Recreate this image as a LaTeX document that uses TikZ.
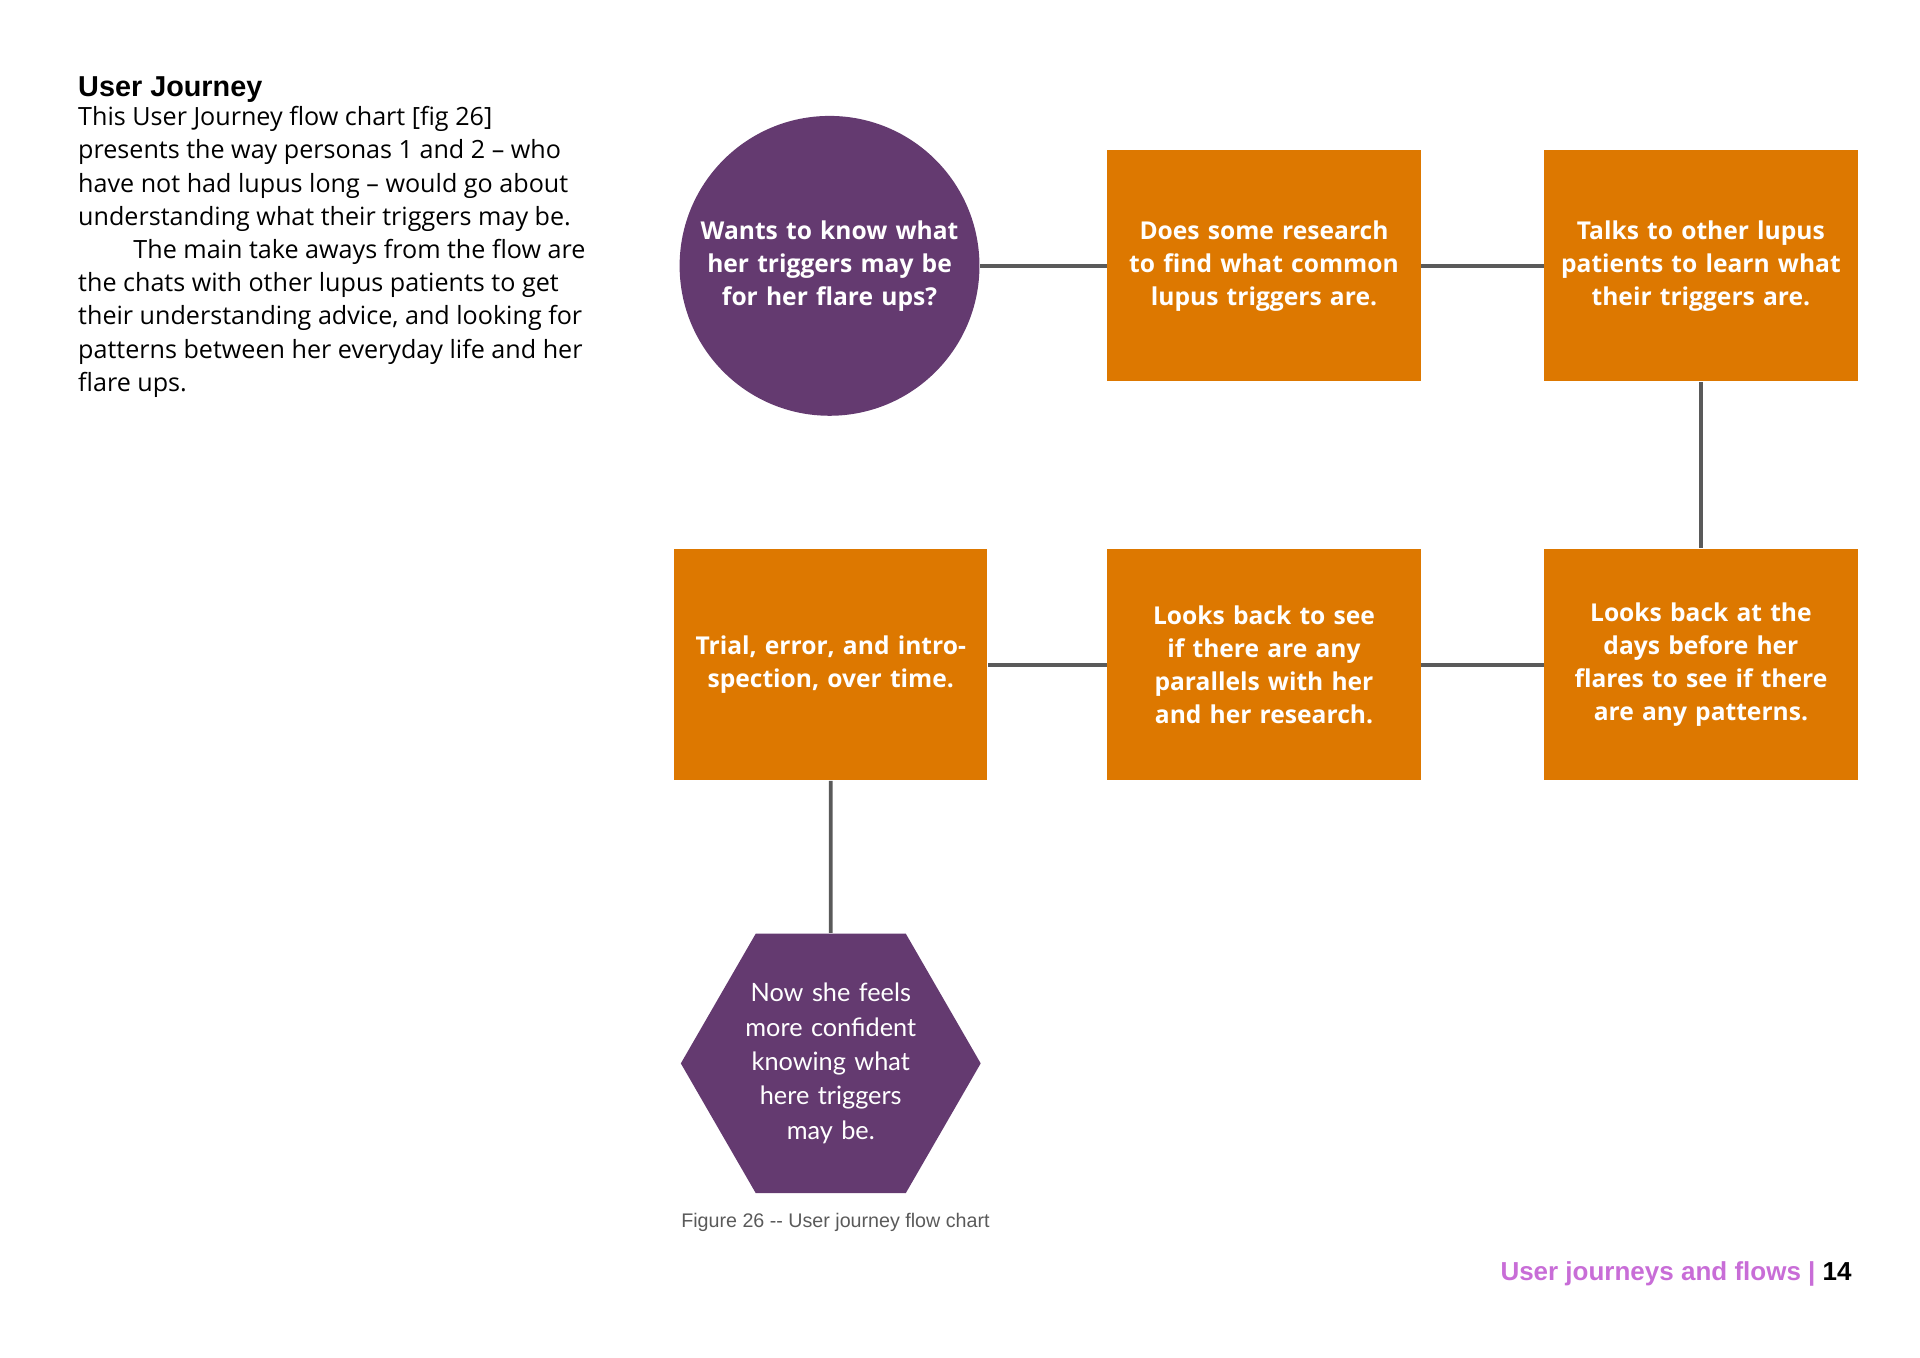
\documentclass[tikz,border=0pt]{standalone}
\usepackage{fontspec}
\setmainfont{Open Sans}
\newfontfamily\headfont{Liberation Sans}
\newfontfamily\hexfont{Lato}
\usetikzlibrary{shapes.geometric}
\definecolor{plum}{HTML}{643A70}
\definecolor{tangerine}{HTML}{DD7800}
\definecolor{linkgray}{HTML}{5A5A5A}
\definecolor{orchid}{HTML}{C86DD7}
\tikzset{
  stepbox/.style={draw=none, fill=tangerine, minimum width=3.015cm, minimum height=2.314cm,
    text width=2.9cm, align=center, text=white, font=\fontsize{7}{9.45}\selectfont\bfseries},
  startnode/.style={circle, fill=plum, minimum size=3.0cm, inner sep=0pt, text width=2.8cm,
    align=center, text=white, font=\fontsize{7}{9.45}\selectfont\bfseries},
  endnode/.style={regular polygon, regular polygon sides=6, fill=plum, minimum size=3.0cm,
    inner sep=0pt, text width=1.8cm, align=center, text=white, font=\hexfont\fontsize{7.2}{9.8}\selectfont},
  link/.style={draw=linkgray, line width=1.1pt}
}
\begin{document}
\begin{tikzpicture}[x=0.012308cm, y=-0.012308cm]
  \useasboundingbox (0,0) rectangle (1560,1103);

  % Intro text
  \node[anchor=base west, inner sep=0pt, font=\headfont\fontsize{8.2}{10}\selectfont\bfseries] (title) at (63,78) {User Journey};
  \node[anchor=north west, inner sep=0pt, align=left, font=\fontsize{7.15}{9.45}\selectfont] (intro) at (63,86)
    {This User Journey flow chart [fig 26]\\
     presents the way personas 1 and 2 -- who\\
     have not had lupus long -- would go about\\
     understanding what their triggers may be.\\
     \hspace*{2.2em}The main take aways from the flow are\\
     the chats with other lupus patients to get\\
     their understanding advice, and looking for\\
     patterns between her everyday life and her\\
     flare ups.};

  % Flow nodes
  \node[startnode] (want) at (674,216) {Wants to know what her triggers may be for her flare ups?};
  \node[stepbox] (research) at (1027,216) {Does some research to find what common lupus triggers are.};
  \node[stepbox] (talk) at (1382,216) {Talks to other lupus patients to learn what their triggers are.};
  \node[stepbox] (days) at (1382,540) {Looks back at the days before her flares to see if there are any patterns.};
  \node[stepbox] (parallels) at (1027,540) {Looks back to see if there are any parallels with her and her research.};
  \node[stepbox] (trial) at (675,540) {Trial, error, and introspection, over time.\\[9.45pt]};
  \node[endnode] (confident) at (675,864) {Now she feels more confident knowing what here triggers may be.};

  % Connectors
  \draw[link] (want) -- (research);
  \draw[link] (research) -- (talk);
  \draw[link] (talk) -- (days);
  \draw[link] (days) -- (parallels);
  \draw[link] (parallels) -- (trial);
  \draw[link] (trial) -- (confident);

  % Caption and footer
  \node[anchor=base west, inner sep=0pt, text=linkgray, font=\headfont\fontsize{5.6}{7}\selectfont] (caption) at (553,997) {Figure 26 -- User journey flow chart};
  \node[anchor=base east, inner sep=0pt, font=\headfont\fontsize{7.4}{9}\selectfont\bfseries] (footer) at (1505,1040)
    {\textcolor{orchid}{User journeys and flows |} 14};
\end{tikzpicture}
\end{document}
